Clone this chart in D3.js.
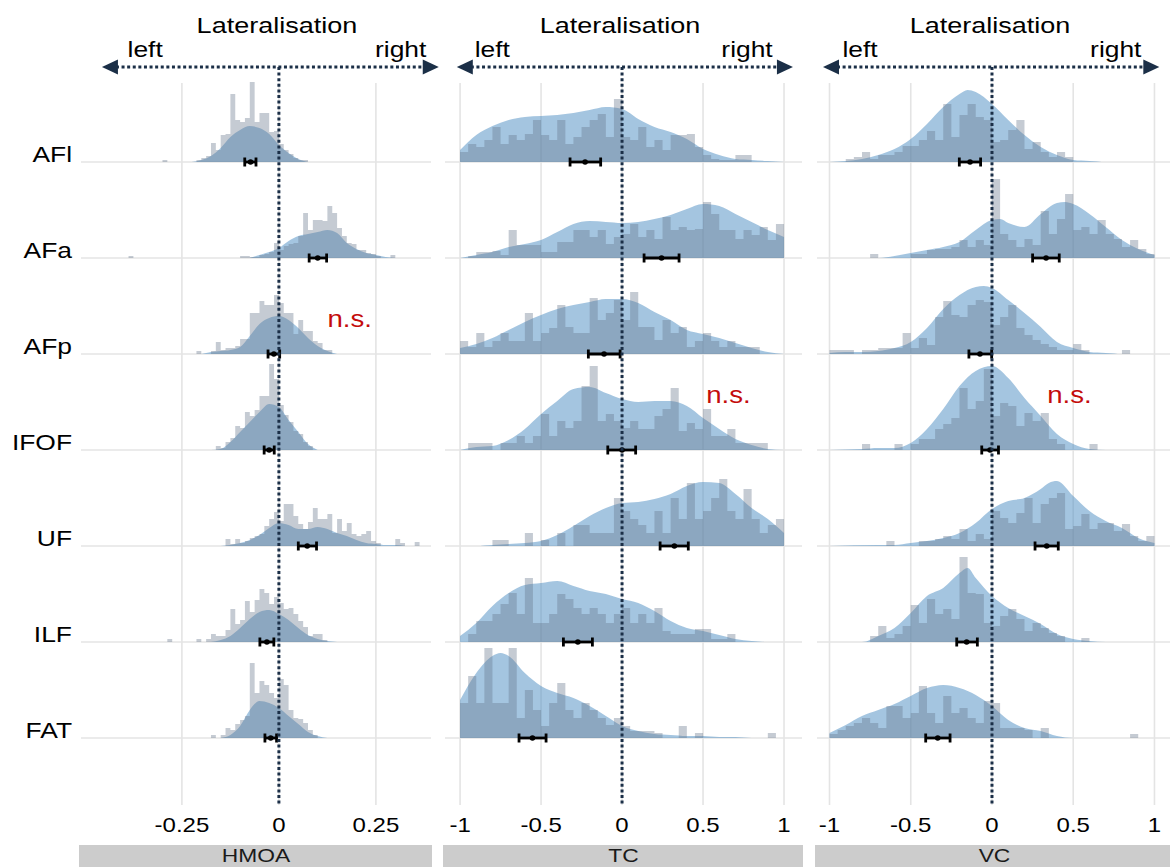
<!DOCTYPE html>
<html>
<head>
<meta charset="utf-8">
<script src="https://cdn.jsdelivr.net/npm/d3@7"></script>
<style>
body { margin: 0; background: #fff; }
text { font-family: "Liberation Sans", Arial, Helvetica, sans-serif; }
</style>
</head>
<body>
<div id="chart"></div>
<script>
// tracts (rows) and measures (panels)
var tracts = ["AFl", "AFa", "AFp", "IFOF", "UF", "ILF", "FAT"];
var measures = ["HMOA", "TC", "VC"];

var hmoaTicks = [-0.25, 0, 0.25];
var tcTicks = [-1, -0.5, 0, 0.5, 1];
var vcTicks = [-1, -0.5, 0, 0.5, 1];

// histogram counts, HMOA bins are 0.0125 wide: [binStart, counts]
var hmoaHist = [
  [[-0.3, [2]], [-0.2125, [2,4,6,19,12,27,28,68,42,40,44,80,40,49,49,30,31,18,12,8,4,2,2]]],
  [[-0.3875, [2]], [-0.1, [2,2,1,1,3,4,6,15,8,12,14,15,22,45,28,38,38,37,52,45,30,22,15,14,8,8,5,4,2,0,0,3]]],
  [[-0.2125, [3,0,0,3,12,4,6,6,8,15,15,41,41,53,49,49,59,51,41,41,20,34,23,23,13,11,4,4]]],
  [[-0.1625, [4,2,8,12,24,22,38,34,40,54,54,86,71,45,35,28,19,16,8,4]]],
  [[-0.1375, [7,2,7,3,5,8,10,12,20,27,34,25,42,42,30,22,17,24,38,27,27,32,13,27,15,23,12,10,12,15,5,3,0,0,0,7,3,0,0,4]]],
  [[-0.2875, [3]], [-0.2125, [3,0,3,8,6,6,12,33,18,22,41,30,42,53,49,38,45,39,33,34,28,21,15,6,8,8,2]]],
  [[-0.175, [3,0,3,10,8,14,18,22,75,45,57,53,45,40,59,53,28,20,19,15,8,3]]]
];

// TC and VC: 40 bins of 0.05 from -1 to 1
var tcHist = [
  [10,18,15,22,35,18,27,22,28,42,27,22,42,18,25,35,42,48,25,63,25,22,35,15,22,12,27,27,28,15,7,3,2,2,7,7,0,0,0,0],
  [0,2,6,6,7,3,28,13,13,13,6,6,16,16,28,28,21,28,14,21,24,34,21,28,19,41,28,31,28,29,56,44,28,28,19,28,23,31,18,34],
  [13,7,21,7,13,21,13,13,41,13,21,26,49,27,21,21,56,34,41,54,34,62,27,27,14,34,21,27,7,13,21,13,7,13,7,7,7,0,0,0],
  [0,7,7,7,0,7,7,14,7,14,36,14,29,22,29,64,84,29,36,29,22,29,21,21,34,41,62,19,27,21,41,14,14,21,7,7,7,7,0,0],
  [0,0,0,0,6,6,0,0,13,0,6,0,13,0,21,21,13,13,13,48,35,27,21,13,35,13,48,27,63,27,35,48,67,35,27,57,27,13,21,27],
  [0,8,21,21,28,38,49,28,64,19,19,28,48,43,34,28,34,28,19,28,34,19,28,19,34,11,8,8,8,13,13,3,3,8,0,0,0,0,0,0],
  [35,62,35,90,35,35,90,20,48,28,12,35,55,28,20,35,28,20,13,20,12,7,7,7,5,0,0,12,0,5,0,0,0,0,0,0,0,0,5,0]
];
var vcHist = [
  [0,0,3,5,10,3,7,7,10,16,16,22,31,22,58,25,47,58,45,42,20,22,32,42,13,20,10,5,10,5,0,0,0,0,0,0,0,0,0,0],
  [0,0,0,0,0,4,0,0,0,0,4,4,8,9,9,11,18,11,18,13,79,24,18,11,19,13,47,24,39,64,28,31,24,38,24,19,11,18,9,4],
  [4,4,4,0,4,4,6,6,6,21,6,16,9,37,53,39,37,49,54,52,29,37,49,26,19,14,10,7,4,4,10,4,0,0,0,0,4,0,0,0],
  [0,0,0,0,6,0,0,0,6,0,6,11,11,21,26,32,62,41,49,81,34,47,44,24,37,29,37,11,6,0,0,0,6,0,0,0,0,0,0,0],
  [0,0,0,0,0,0,0,5,0,0,0,5,5,7,10,7,17,5,12,7,35,28,23,33,48,23,42,48,53,17,20,32,17,23,23,15,22,10,5,10],
  [0,0,0,0,0,6,16,4,8,16,37,19,43,28,33,23,85,49,48,19,16,26,33,23,11,19,14,9,6,0,0,4,0,0,0,0,0,0,0,0],
  [4,8,12,15,20,15,10,32,32,20,25,52,25,15,42,25,30,20,15,37,35,10,10,10,8,0,10,0,0,0,0,0,0,0,0,0,0,4,0,0]
];

// density curves: [value, height]
var hmoaDens = [
  [[-0.225,0],[-0.2,2],[-0.175,6],[-0.15,14],[-0.125,25],[-0.1,32],[-0.075,36],[-0.05,34],[-0.025,28],[0,17],[0.025,9],[0.05,3],[0.075,0]],
  [[-0.075,0],[-0.05,3],[-0.025,6],[0,10],[0.025,17],[0.05,22],[0.075,24],[0.1,26],[0.125,28],[0.15,25],[0.175,15],[0.2,9],[0.225,5],[0.25,3],[0.275,1],[0.3,0]],
  [[-0.2,0],[-0.175,2],[-0.15,3],[-0.125,4],[-0.1,7],[-0.075,18],[-0.05,30],[-0.025,36],[0,38],[0.025,34],[0.05,26],[0.075,16],[0.1,8],[0.125,3],[0.15,0]],
  [[-0.175,0],[-0.15,1],[-0.125,8],[-0.1,18],[-0.075,28],[-0.05,38],[-0.025,46],[0,43],[0.025,30],[0.05,18],[0.075,6],[0.1,0]],
  [[-0.15,0],[-0.125,1],[-0.1,3],[-0.075,6],[-0.05,11],[-0.025,18],[0,23],[0.025,21],[0.05,17],[0.075,17],[0.1,19],[0.125,17],[0.15,13],[0.175,10],[0.2,6],[0.225,3],[0.25,2],[0.275,1],[0.3,1],[0.325,0]],
  [[-0.175,0],[-0.15,2],[-0.125,6],[-0.1,14],[-0.075,23],[-0.05,30],[-0.025,32],[0,28],[0.025,22],[0.05,14],[0.075,7],[0.1,3],[0.125,1],[0.15,0]],
  [[-0.15,0],[-0.125,3],[-0.1,12],[-0.075,28],[-0.05,37],[-0.025,35],[0,30],[0.025,22],[0.05,14],[0.075,6],[0.1,2],[0.125,0]]
];
var tcDens = [
  [[-1,12],[-0.9,27],[-0.8,36],[-0.7,42],[-0.6,45],[-0.5,46],[-0.4,47],[-0.3,49],[-0.2,52],[-0.1,55],[0,53],[0.1,43],[0.2,35],[0.3,30],[0.4,23],[0.5,13],[0.6,7],[0.7,3],[0.8,2],[0.9,1],[1,0]],
  [[-1,0],[-0.9,3],[-0.8,6],[-0.7,11],[-0.6,14],[-0.5,18],[-0.4,26],[-0.3,34],[-0.2,37],[-0.1,36],[0,35],[0.1,36],[0.2,39],[0.3,43],[0.4,49],[0.5,54],[0.6,52],[0.7,44],[0.8,36],[0.9,28],[1,21]],
  [[-1,6],[-0.9,10],[-0.8,16],[-0.7,24],[-0.6,32],[-0.5,39],[-0.4,45],[-0.3,49],[-0.2,52],[-0.1,55],[0,55],[0.1,51],[0.2,42],[0.3,34],[0.4,24],[0.5,20],[0.6,16],[0.7,11],[0.8,6],[0.9,2],[1,0]],
  [[-1,0],[-0.9,3],[-0.8,4],[-0.7,10],[-0.6,21],[-0.5,36],[-0.4,49],[-0.3,61],[-0.2,63],[-0.1,57],[0,51],[0.1,48],[0.2,49],[0.3,49],[0.4,44],[0.5,32],[0.6,21],[0.7,11],[0.8,5],[0.9,1],[1,0]],
  [[-1,0],[-0.9,0],[-0.8,1],[-0.7,2],[-0.6,3],[-0.5,5],[-0.4,11],[-0.3,20],[-0.2,30],[-0.1,38],[0,43],[0.1,44],[0.2,47],[0.3,52],[0.4,60],[0.5,64],[0.6,63],[0.7,52],[0.8,38],[0.9,27],[1,13]],
  [[-1,6],[-0.9,19],[-0.8,36],[-0.7,49],[-0.6,57],[-0.5,59],[-0.4,61],[-0.3,56],[-0.2,51],[-0.1,48],[0,43],[0.1,39],[0.2,31],[0.3,21],[0.4,14],[0.5,11],[0.6,7],[0.7,3],[0.8,1],[0.9,0],[1,0]],
  [[-1,38],[-0.9,65],[-0.8,82],[-0.75,85],[-0.7,82],[-0.6,65],[-0.5,52],[-0.4,45],[-0.3,40],[-0.2,32],[-0.1,22],[0,12],[0.1,7],[0.2,4],[0.3,3],[0.4,2],[0.5,2],[0.6,1],[0.7,1],[0.8,0],[1,0]]
];
var vcDens = [
  [[-1,0],[-0.9,1],[-0.8,3],[-0.7,7],[-0.6,13],[-0.5,23],[-0.4,38],[-0.3,55],[-0.2,68],[-0.15,72],[-0.1,70],[0,58],[0.1,42],[0.2,27],[0.3,15],[0.4,7],[0.5,2],[0.6,1],[0.7,0],[1,0]],
  [[-1,0],[-0.7,0],[-0.6,2],[-0.5,5],[-0.4,8],[-0.3,11],[-0.2,16],[-0.1,28],[0,38],[0.05,39],[0.1,35],[0.2,31],[0.3,44],[0.4,55],[0.45,56],[0.5,54],[0.6,44],[0.7,31],[0.8,18],[0.9,9],[1,3]],
  [[-1,1],[-0.9,2],[-0.8,2],[-0.7,3],[-0.6,6],[-0.5,12],[-0.4,26],[-0.3,45],[-0.2,59],[-0.1,67],[-0.05,68],[0,66],[0.1,54],[0.2,41],[0.3,27],[0.4,12],[0.5,6],[0.6,2],[0.7,1],[0.8,0],[1,0]],
  [[-1,0],[-0.8,1],[-0.7,2],[-0.6,2],[-0.5,7],[-0.4,21],[-0.3,41],[-0.2,64],[-0.1,79],[0,84],[0.1,72],[0.2,52],[0.3,34],[0.4,16],[0.5,6],[0.6,1],[0.7,0],[1,0]],
  [[-1,0],[-0.7,1],[-0.6,1],[-0.5,3],[-0.4,5],[-0.3,8],[-0.2,13],[-0.1,23],[0,37],[0.1,45],[0.2,48],[0.3,57],[0.35,63],[0.4,65],[0.5,50],[0.6,35],[0.7,25],[0.8,18],[0.9,8],[1,3]],
  [[-1,0],[-0.8,0],[-0.7,6],[-0.6,14],[-0.5,29],[-0.4,46],[-0.3,54],[-0.2,69],[-0.15,74],[-0.1,64],[0,46],[0.1,34],[0.2,26],[0.3,18],[0.4,8],[0.5,3],[0.6,1],[0.7,0],[1,0]],
  [[-1,5],[-0.9,13],[-0.8,22],[-0.7,28],[-0.6,34],[-0.5,42],[-0.4,50],[-0.35,52],[-0.3,53],[-0.2,50],[-0.1,43],[0,32],[0.1,18],[0.2,10],[0.3,7],[0.4,2],[0.5,0],[1,0]]
];

// mean lateralisation with 95% CI
var hmoaMean = [-0.073, 0.100, -0.013, -0.025, 0.073, -0.031, -0.021];
var hmoaLo   = [-0.088, 0.078, -0.028, -0.038, 0.050, -0.049, -0.036];
var hmoaHi   = [-0.059, 0.123,  0.002, -0.012, 0.097, -0.013, -0.006];
var tcMean = [-0.228, 0.244, -0.111, 0.000, 0.323, -0.273, -0.553];
var tcLo   = [-0.321, 0.136, -0.208, -0.088, 0.235, -0.362, -0.636];
var tcHi   = [-0.132, 0.352, -0.012, 0.084, 0.409, -0.183, -0.469];
var vcMean = [-0.135, 0.333, -0.074, -0.012, 0.337, -0.156, -0.334];
var vcLo   = [-0.201, 0.250, -0.142, -0.063, 0.265, -0.217, -0.408];
var vcHi   = [-0.070, 0.414, -0.002, 0.040, 0.408, -0.090, -0.258];

// non-significant results: [measure, tract, value, height]
var nsLabels = [["HMOA", "AFp", 0.125, 27], ["TC", "IFOF", 0.52, 47], ["VC", "IFOF", 0.34, 47]];

var width = 1170, height = 867;
var navy = '#1b2f47';

var svg = d3.select('#chart').append('svg')
    .attr('width', width)
    .attr('height', height)
    .style('background', '#fff');

function stretchText(g, x, y, str, size, anchor) {
    return g.append('text')
        .attr('transform', 'translate(' + x + ',' + y + ') scale(1.2,1)')
        .attr('text-anchor', anchor)
        .attr('font-size', size)
        .text(str);
}

var y = d3.scalePoint().domain(tracts).range([162, 738]);
var h = d3.scaleLinear().domain([0, 100]).range([0, 100]);

var panels = [
    { name: 'HMOA', range: [81, 431], domain: [-0.51, 0.392], ticks: hmoaTicks, bw: 0.0125,
      hist: hmoaHist, dens: hmoaDens, mean: hmoaMean, lo: hmoaLo, hi: hmoaHi,
      arrow: [-0.456, 0.412], side: [-0.39, 0.38] },
    { name: 'TC', range: [445, 802], domain: [-1.093, 1.111], ticks: tcTicks, bw: 0.05,
      hist: tcHist.map(function(c) { return [[-1, c]]; }), dens: tcDens, mean: tcMean, lo: tcLo, hi: tcHi,
      arrow: [-1.02, 1.055], side: [-0.91, 0.93] },
    { name: 'VC', range: [817, 1172], domain: [-1.077, 1.108], ticks: vcTicks, bw: 0.05,
      hist: vcHist.map(function(c) { return [[-1, c]]; }), dens: vcDens, mean: vcMean, lo: vcLo, hi: vcHi,
      arrow: [-1.04, 1.03], side: [-0.92, 0.92] }
];

// row labels
tracts.forEach(function(t) {
    stretchText(svg, 72, y(t), t, 22, 'end').attr('fill', '#000');
});

panels.forEach(function(p) {
    var x = d3.scaleLinear().domain(p.domain).range(p.range);
    var g = svg.append('g').attr('class', 'panel');

    // grid
    g.selectAll('line.vgrid').data(p.ticks).enter().append('line')
        .attr('x1', function(d) { return x(d); })
        .attr('x2', function(d) { return x(d); })
        .attr('y1', 83).attr('y2', 805)
        .attr('stroke', '#e4e4e4').attr('stroke-width', 1.6);
    g.selectAll('line.hgrid').data(tracts).enter().append('line')
        .attr('x1', p.range[0]).attr('x2', p.range[1])
        .attr('y1', function(d) { return y(d); })
        .attr('y2', function(d) { return y(d); })
        .attr('stroke', '#e4e4e4').attr('stroke-width', 1.6);

    // densities
    tracts.forEach(function(t, i) {
        var area = d3.area()
            .curve(d3.curveMonotoneX)
            .x(function(d) { return x(d[0]); })
            .y0(y(t))
            .y1(function(d) { return y(t) - h(d[1]); });
        g.append('path')
            .datum(p.dens[i])
            .attr('d', area)
            .attr('fill', '#4a8bc1')
            .attr('fill-opacity', 0.5);
    });

    // histograms
    tracts.forEach(function(t, i) {
        var step = d3.area()
            .curve(d3.curveStepAfter)
            .x(function(d) { return x(d[0]); })
            .y0(y(t))
            .y1(function(d) { return y(t) - h(d[1]); });
        p.hist[i].forEach(function(seg) {
            var pts = seg[1].map(function(c, k) { return [seg[0] + k * p.bw, c]; });
            pts.push([seg[0] + seg[1].length * p.bw, 0]);
            g.append('path')
                .datum(pts)
                .attr('d', step)
                .attr('fill', '#67768b')
                .attr('fill-opacity', 0.38);
        });
    });

    // error bars
    tracts.forEach(function(t, i) {
        var eg = g.append('g').attr('stroke', '#000').attr('stroke-width', 2.8);
        eg.append('line')
            .attr('x1', x(p.lo[i])).attr('x2', x(p.hi[i]))
            .attr('y1', y(t)).attr('y2', y(t));
        [p.lo[i], p.hi[i]].forEach(function(v) {
            eg.append('line')
                .attr('x1', x(v)).attr('x2', x(v))
                .attr('y1', y(t) - 4.5).attr('y2', y(t) + 4.5);
        });
        g.append('circle')
            .attr('cx', x(p.mean[i])).attr('cy', y(t))
            .attr('r', 2.8).attr('fill', '#000');
    });

    // zero line
    g.append('line')
        .attr('x1', x(0)).attr('x2', x(0))
        .attr('y1', 67).attr('y2', 805)
        .attr('stroke', navy).attr('stroke-width', 3)
        .attr('stroke-dasharray', '3,2.6');

    // lateralisation arrow
    var ax0 = x(p.arrow[0]), ax1 = x(p.arrow[1]), ay = 67;
    g.append('line')
        .attr('x1', ax0 + 14).attr('x2', ax1 - 14)
        .attr('y1', ay).attr('y2', ay)
        .attr('stroke', navy).attr('stroke-width', 3)
        .attr('stroke-dasharray', '3,2.6');
    g.append('path')
        .attr('d', 'M' + ax0 + ',' + ay + 'L' + (ax0 + 16) + ',' + (ay - 7.5) + 'L' + (ax0 + 16) + ',' + (ay + 7.5) + 'Z')
        .attr('fill', navy);
    g.append('path')
        .attr('d', 'M' + ax1 + ',' + ay + 'L' + (ax1 - 16) + ',' + (ay - 7.5) + 'L' + (ax1 - 16) + ',' + (ay + 7.5) + 'Z')
        .attr('fill', navy);

    stretchText(g, x(0) - 2, 33, 'Lateralisation', 22.5, 'middle').attr('fill', '#000');
    stretchText(g, x(p.side[0]), 57, 'left', 22, 'start').attr('fill', '#000');
    stretchText(g, x(p.side[1]), 57, 'right', 22, 'end').attr('fill', '#000');

    // tick labels
    p.ticks.forEach(function(v) {
        stretchText(g, x(v), 832, String(v), 20, 'middle').attr('fill', '#000');
    });

    // strip
    g.append('rect')
        .attr('x', p.range[0] - 2).attr('y', 845)
        .attr('width', p.range[1] - p.range[0] + 3).attr('height', 30)
        .attr('fill', '#cccccc');
    stretchText(g, (p.range[0] + p.range[1]) / 2, 862, p.name, 19, 'middle').attr('fill', '#1a1a1a');

    // n.s. annotations
    nsLabels.filter(function(n) { return n[0] === p.name; }).forEach(function(n) {
        stretchText(g, x(n[2]), y(n[1]) - h(n[3]), 'n.s.', 23, 'start').attr('fill', '#c40c0c');
    });
});
</script>
</body>
</html>
